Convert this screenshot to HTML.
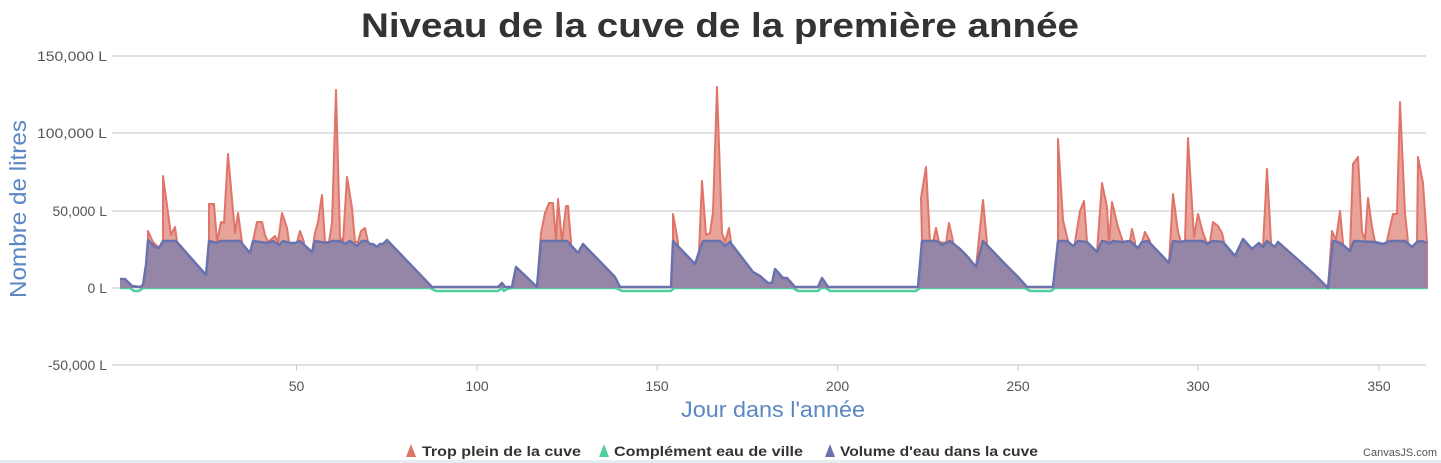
<!DOCTYPE html>
<html><head><meta charset="utf-8"><style>
html,body{margin:0;padding:0;background:#fff;}
svg{display:block;font-family:"Liberation Sans",sans-serif;}
</style></head><body>
<svg width="1441" height="463" viewBox="0 0 1441 463" xmlns="http://www.w3.org/2000/svg">
<rect width="1441" height="463" fill="#fff"/>
<text x="720" y="37" text-anchor="middle" font-size="34" font-weight="bold" fill="#333" textLength="718" lengthAdjust="spacingAndGlyphs">Niveau de la cuve de la première année</text>
<g stroke="#d8d8d8" stroke-width="1.5">
<line x1="112" y1="56" x2="1426" y2="56"/>
<line x1="112" y1="133" x2="1426" y2="133"/>
<line x1="112" y1="211" x2="1426" y2="211"/>
<line x1="112" y1="288" x2="1426" y2="288"/>
<line x1="112" y1="365" x2="1426" y2="365"/>
</g>
<g stroke="#ccc" stroke-width="1">
<line x1="296.5" y1="365" x2="296.5" y2="371"/><line x1="477" y1="365" x2="477" y2="371"/><line x1="657" y1="365" x2="657" y2="371"/><line x1="837.5" y1="365" x2="837.5" y2="371"/><line x1="1018" y1="365" x2="1018" y2="371"/><line x1="1198" y1="365" x2="1198" y2="371"/><line x1="1379" y1="365" x2="1379" y2="371"/>
</g>
<g font-size="14" fill="#555" text-anchor="end">
<text x="107" y="61" textLength="70" lengthAdjust="spacingAndGlyphs">150,000 L</text><text x="107" y="138" textLength="70" lengthAdjust="spacingAndGlyphs">100,000 L</text><text x="107" y="216">50,000 L</text><text x="107" y="293">0 L</text><text x="107" y="370">-50,000 L</text>
</g>
<g font-size="14" fill="#555" text-anchor="middle">
<text x="296.5" y="391">50</text><text x="477" y="391">100</text><text x="657" y="391">150</text><text x="837.5" y="391">200</text><text x="1018" y="391">250</text><text x="1198" y="391">300</text><text x="1379" y="391">350</text>
</g>
<text transform="translate(26,209) rotate(-90)" text-anchor="middle" font-size="23" fill="#5b87c2" textLength="178" lengthAdjust="spacingAndGlyphs">Nombre de litres</text>
<text x="773" y="417" text-anchor="middle" font-size="22" fill="#5b87c2" textLength="184" lengthAdjust="spacingAndGlyphs">Jour dans l'année</text>

<g fill="#e8a39b" stroke="#e07468" stroke-width="2" stroke-linejoin="round">
<polygon points="148,288 148,240 148,231 153,242 159,248 163,241 163,176 171,235 175,227 177,242 177,288"/>
<polygon points="209,288 209,241 209,204 214,204 217,242 221,222 224,223 228,154 235,233 238,213 242,242 242,288"/>
<polygon points="253,288 253,241 257,222 262,222 265,235 268,242 275,236 278,242 282,213 287,228 289,242 289,288"/>
<polygon points="297,288 297,242 300,231 304,242 304,288"/>
<polygon points="312,288 312,252 315,233 318,222 322,195 325,242 329,242 332,223 336,90 340,237 343,242 347,177 352,208 355,242 358,242 361,231 365,228 368,242 368,288"/>
<polygon points="537,288 537,287 541,233 545,213 549,203 553,203 556,241 558,199 562,242 566,206 568,206 571,242 571,288"/>
<polygon points="673,288 673,241 673,214 678,242 678,288"/>
<polygon points="699,288 699,252 702,181 706,235 710,233 713,212 717,87 722,233 725,242 729,228 731,242 731,288"/>
<polygon points="922,288 922,241 921,198 926,167 930,242 933,242 936,228 939,242 946,243 949,223 953,241 953,288"/>
<polygon points="976,288 976,267 983,200 987,243 987,288"/>
<polygon points="1058,288 1058,241 1058,139 1063,220 1068,241 1068,288"/>
<polygon points="1075,288 1075,242 1080,211 1084,201 1087,242 1087,288"/>
<polygon points="1097,288 1097,252 1102,183 1107,207 1109,244 1112,202 1118,227 1123,242 1123,288"/>
<polygon points="1130,288 1130,241 1132,229 1135,242 1135,288"/>
<polygon points="1142,288 1142,242 1145,232 1150,241 1150,288"/>
<polygon points="1169,288 1169,263 1173,194 1178,232 1181,242 1185,241 1188,138 1194,237 1198,214 1203,233 1207,243 1210,242 1213,222 1218,226 1222,233 1224,242 1224,288"/>
<polygon points="1263,288 1263,247 1267,169 1271,242 1271,288"/>
<polygon points="1328,288 1332,231 1336,240 1340,211 1343,243 1343,288"/>
<polygon points="1350,288 1350,251 1353,164 1358,157 1362,232 1365,240 1368,198 1372,227 1375,242 1375,288"/>
<polygon points="1387,288 1387,241 1393,214 1397,214 1400,102 1405,213 1408,242 1408,288"/>
<polygon points="1417,288 1417,242 1418,157 1423,183 1427,243 1427,288"/>
</g>

<polyline fill="none" stroke="#4fcf9e" stroke-width="2.5" stroke-linejoin="round" points="120,288 130,288 134,291 139,291 143,288 430,288 436,291 470,291 498,291 502,288 504,291 507,289 512,288 616,288 622,291 671,291 674,288 793,288 798,291 818,291 821,288 826,288 830,291 916,291 920,288 1025,288 1030,291 1051,291 1055,288 1427,288"/>

<polygon fill="#9586a8" stroke="none" points="120,288 120,279 125,279 132,286 140,287 143,285 146,265 148,240 155,247 159,248 163,241 176,241 206,275 209,241 217,243 220,241 240,241 250,253 253,241 267,243 273,241 279,245 283,241 290,243 295,243 300,241 312,252 315,241 327,243 332,241 340,241 345,244 350,241 357,246 362,241 367,241 370,244 373,244 377,247 380,244 383,244 387,240 410,264 432,287 498,287 502,283 505,287 512,287 516,267 537,287 541,241 555,241 567,241 578,253 583,244 615,277 620,287 671,287 673,241 695,264 699,252 703,241 720,241 725,246 730,242 753,272 760,276 768,283 772,283 775,269 783,278 787,278 795,287 818,287 822,278 828,287 918,287 922,241 937,241 942,245 950,241 960,249 967,256 976,267 983,241 1005,264 1018,277 1027,287 1053,287 1058,241 1067,241 1073,246 1078,241 1087,242 1097,252 1102,241 1107,242 1109,244 1113,241 1122,242 1130,241 1138,248 1142,242 1148,241 1169,263 1173,241 1180,242 1185,241 1203,241 1207,244 1213,241 1223,242 1235,256 1243,239 1252,249 1259,243 1263,247 1267,241 1275,247 1278,242 1313,273 1328,288 1333,241 1338,242 1343,245 1350,251 1354,241 1375,242 1383,244 1390,241 1405,241 1412,247 1417,242 1422,241 1427,243 1427,288"/>
<polyline fill="none" stroke="#6a72ad" stroke-width="2.5" stroke-linejoin="round" points="120,279 125,279 132,286 140,287 143,285 146,265 148,240 155,247 159,248 163,241 176,241 206,275 209,241 217,243 220,241 240,241 250,253 253,241 267,243 273,241 279,245 283,241 290,243 295,243 300,241 312,252 315,241 327,243 332,241 340,241 345,244 350,241 357,246 362,241 367,241 370,244 373,244 377,247 380,244 383,244 387,240 410,264 432,287 498,287 502,283 505,287 512,287 516,267 537,287 541,241 555,241 567,241 578,253 583,244 615,277 620,287 671,287 673,241 695,264 699,252 703,241 720,241 725,246 730,242 753,272 760,276 768,283 772,283 775,269 783,278 787,278 795,287 818,287 822,278 828,287 918,287 922,241 937,241 942,245 950,241 960,249 967,256 976,267 983,241 1005,264 1018,277 1027,287 1053,287 1058,241 1067,241 1073,246 1078,241 1087,242 1097,252 1102,241 1107,242 1109,244 1113,241 1122,242 1130,241 1138,248 1142,242 1148,241 1169,263 1173,241 1180,242 1185,241 1203,241 1207,244 1213,241 1223,242 1235,256 1243,239 1252,249 1259,243 1263,247 1267,241 1275,247 1278,242 1313,273 1328,288 1333,241 1338,242 1343,245 1350,251 1354,241 1375,242 1383,244 1390,241 1405,241 1412,247 1417,242 1422,241 1427,243"/>

<g font-size="14" font-weight="bold" fill="#333">
<polygon points="406,457 411,444 416,457" fill="#e07468"/>
<text x="422" y="456" textLength="159" lengthAdjust="spacingAndGlyphs">Trop plein de la cuve</text>
<polygon points="599,457 604,444 609,457" fill="#4fcf9e"/>
<text x="614" y="456" textLength="189" lengthAdjust="spacingAndGlyphs">Complément eau de ville</text>
<polygon points="825,457 830,444 835,457" fill="#6a72ad"/>
<text x="840" y="456" textLength="198" lengthAdjust="spacingAndGlyphs">Volume d'eau dans la cuve</text>
</g>
<text x="1437" y="456" text-anchor="end" font-size="11" fill="#555">CanvasJS.com</text>
<rect x="0" y="460" width="1441" height="3" fill="#e4eef0"/>
</svg>
</body></html>
